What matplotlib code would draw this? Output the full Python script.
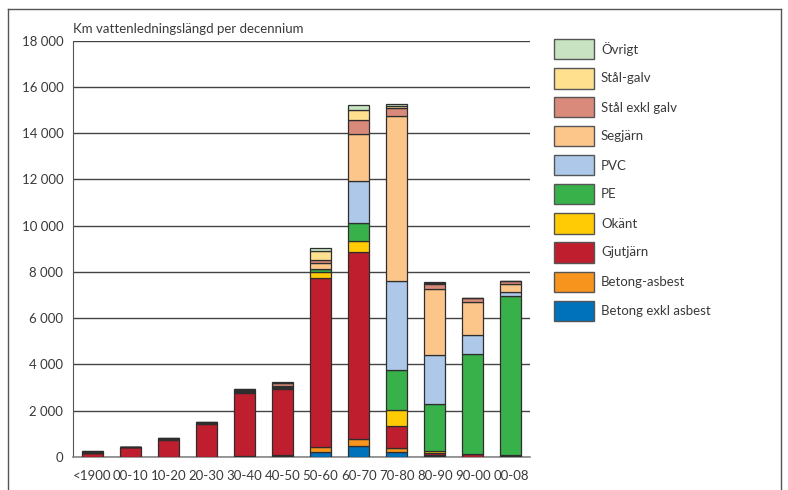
import matplotlib.pyplot as plt
from matplotlib.patches import Rectangle
from matplotlib.lines import Line2D
import numpy as np

plt.rcParams["font.family"] = ["Lato", "DejaVu Sans"]

categories = ["<1900", "00-10", "10-20", "20-30", "30-40", "40-50",
              "50-60", "60-70", "70-80", "80-90", "90-00", "00-08"]

# km per decade and material, listed from the bottom of each stack upwards
betong_exkl_asbest = [0, 0, 0, 0, 20, 50, 230, 460, 230, 30, 0, 40]
betong_asbest = [0, 0, 0, 0, 20, 50, 190, 330, 145, 50, 0, 0]
gjutjarn = [170, 430, 740, 1430, 2710, 2820, 7300, 8080, 965, 100, 110, 60]
okant = [20, 0, 20, 20, 60, 60, 290, 490, 690, 80, 0, 0]
pe = [0, 0, 0, 0, 30, 30, 120, 740, 1730, 2020, 4350, 6870]
pvc = [0, 0, 0, 0, 0, 0, 0, 1840, 3860, 2130, 810, 170]
segjarn = [20, 0, 20, 20, 30, 40, 260, 2020, 7130, 2850, 1440, 320]
stal_exkl_galv = [20, 20, 30, 30, 40, 130, 140, 630, 320, 200, 170, 150]
stal_galv = [20, 0, 0, 0, 20, 40, 380, 410, 110, 50, 0, 0]
ovrigt = [0, 0, 0, 0, 20, 40, 115, 240, 70, 40, 0, 0]

series = [
    ("Betong exkl asbest", betong_exkl_asbest, "#0072bc"),
    ("Betong-asbest", betong_asbest, "#f7941d"),
    ("Gjutjärn", gjutjarn, "#be1e2d"),
    ("Okänt", okant, "#ffcb05"),
    ("PE", pe, "#39b14a"),
    ("PVC", pvc, "#adc8e8"),
    ("Segjärn", segjarn, "#fcc68b"),
    ("Stål exkl galv", stal_exkl_galv, "#da8a7a"),
    ("Stål-galv", stal_galv, "#fee08f"),
    ("Övrigt", ovrigt, "#c8e3c2"),
]

W, H = 788, 490
text_color = "#3a3a3a"
edge = "#2e2e2e"

fig = plt.figure(figsize=(W / 100, H / 100), dpi=100)
ax = fig.add_axes([73 / W, 1 - 457 / H, (530 - 73) / W, (457 - 40.7) / H])

x = np.arange(len(categories))
bottom = np.zeros(len(categories))
for name, vals, color in series:
    vals = np.array(vals, dtype=float)
    ax.bar(x, vals, bottom=bottom, width=0.55, color=color,
           edgecolor=edge, linewidth=0.9, zorder=3)
    bottom += vals

ax.set_xlim(-0.5, 11.5)
ax.set_ylim(0, 18000)
ax.set_yticks(range(0, 18001, 2000))
ax.set_yticklabels([f"{v:,}".replace(",", " ") for v in range(0, 18001, 2000)])
ax.set_xticks(x)
ax.set_xticklabels(categories)
ax.yaxis.grid(True, color="#444444", linewidth=1)
ax.set_axisbelow(True)
ax.tick_params(axis="both", length=0, labelsize=9.5, colors=text_color)
ax.tick_params(axis="y", pad=7)
ax.tick_params(axis="x", pad=9)
for side in ["top", "right"]:
    ax.spines[side].set_visible(False)
ax.spines["left"].set_color("#555555")
ax.spines["bottom"].set_color("#888888")
ax.spines["bottom"].set_linewidth(1.2)

fig.text(73 / W, 1 - 29 / H, "Km vattenledningslängd per decennium",
         fontsize=9.5, color=text_color, va="center", ha="left")

# legend boxes, top entry first
for i, (name, vals, color) in enumerate(reversed(series)):
    top = 39.5 + i * 29
    fig.add_artist(Rectangle((554 / W, 1 - (top + 20) / H), 40 / W, 20 / H,
                             transform=fig.transFigure, facecolor=color,
                             edgecolor="#555555", linewidth=1))
    fig.text(601 / W, 1 - (top + 10) / H, name, fontsize=9.5,
             color=text_color, va="center", ha="left")

# outer frame
frame = dict(color="#555555", linewidth=1, transform=fig.transFigure)
fig.add_artist(Line2D([8 / W, 8 / W], [0, 1 - 9 / H], **frame))
fig.add_artist(Line2D([8 / W, 781 / W], [1 - 9 / H, 1 - 9 / H], **frame))
fig.add_artist(Line2D([781 / W, 781 / W], [0, 1 - 9 / H], **frame))

fig.savefig("out.png", dpi=100)
